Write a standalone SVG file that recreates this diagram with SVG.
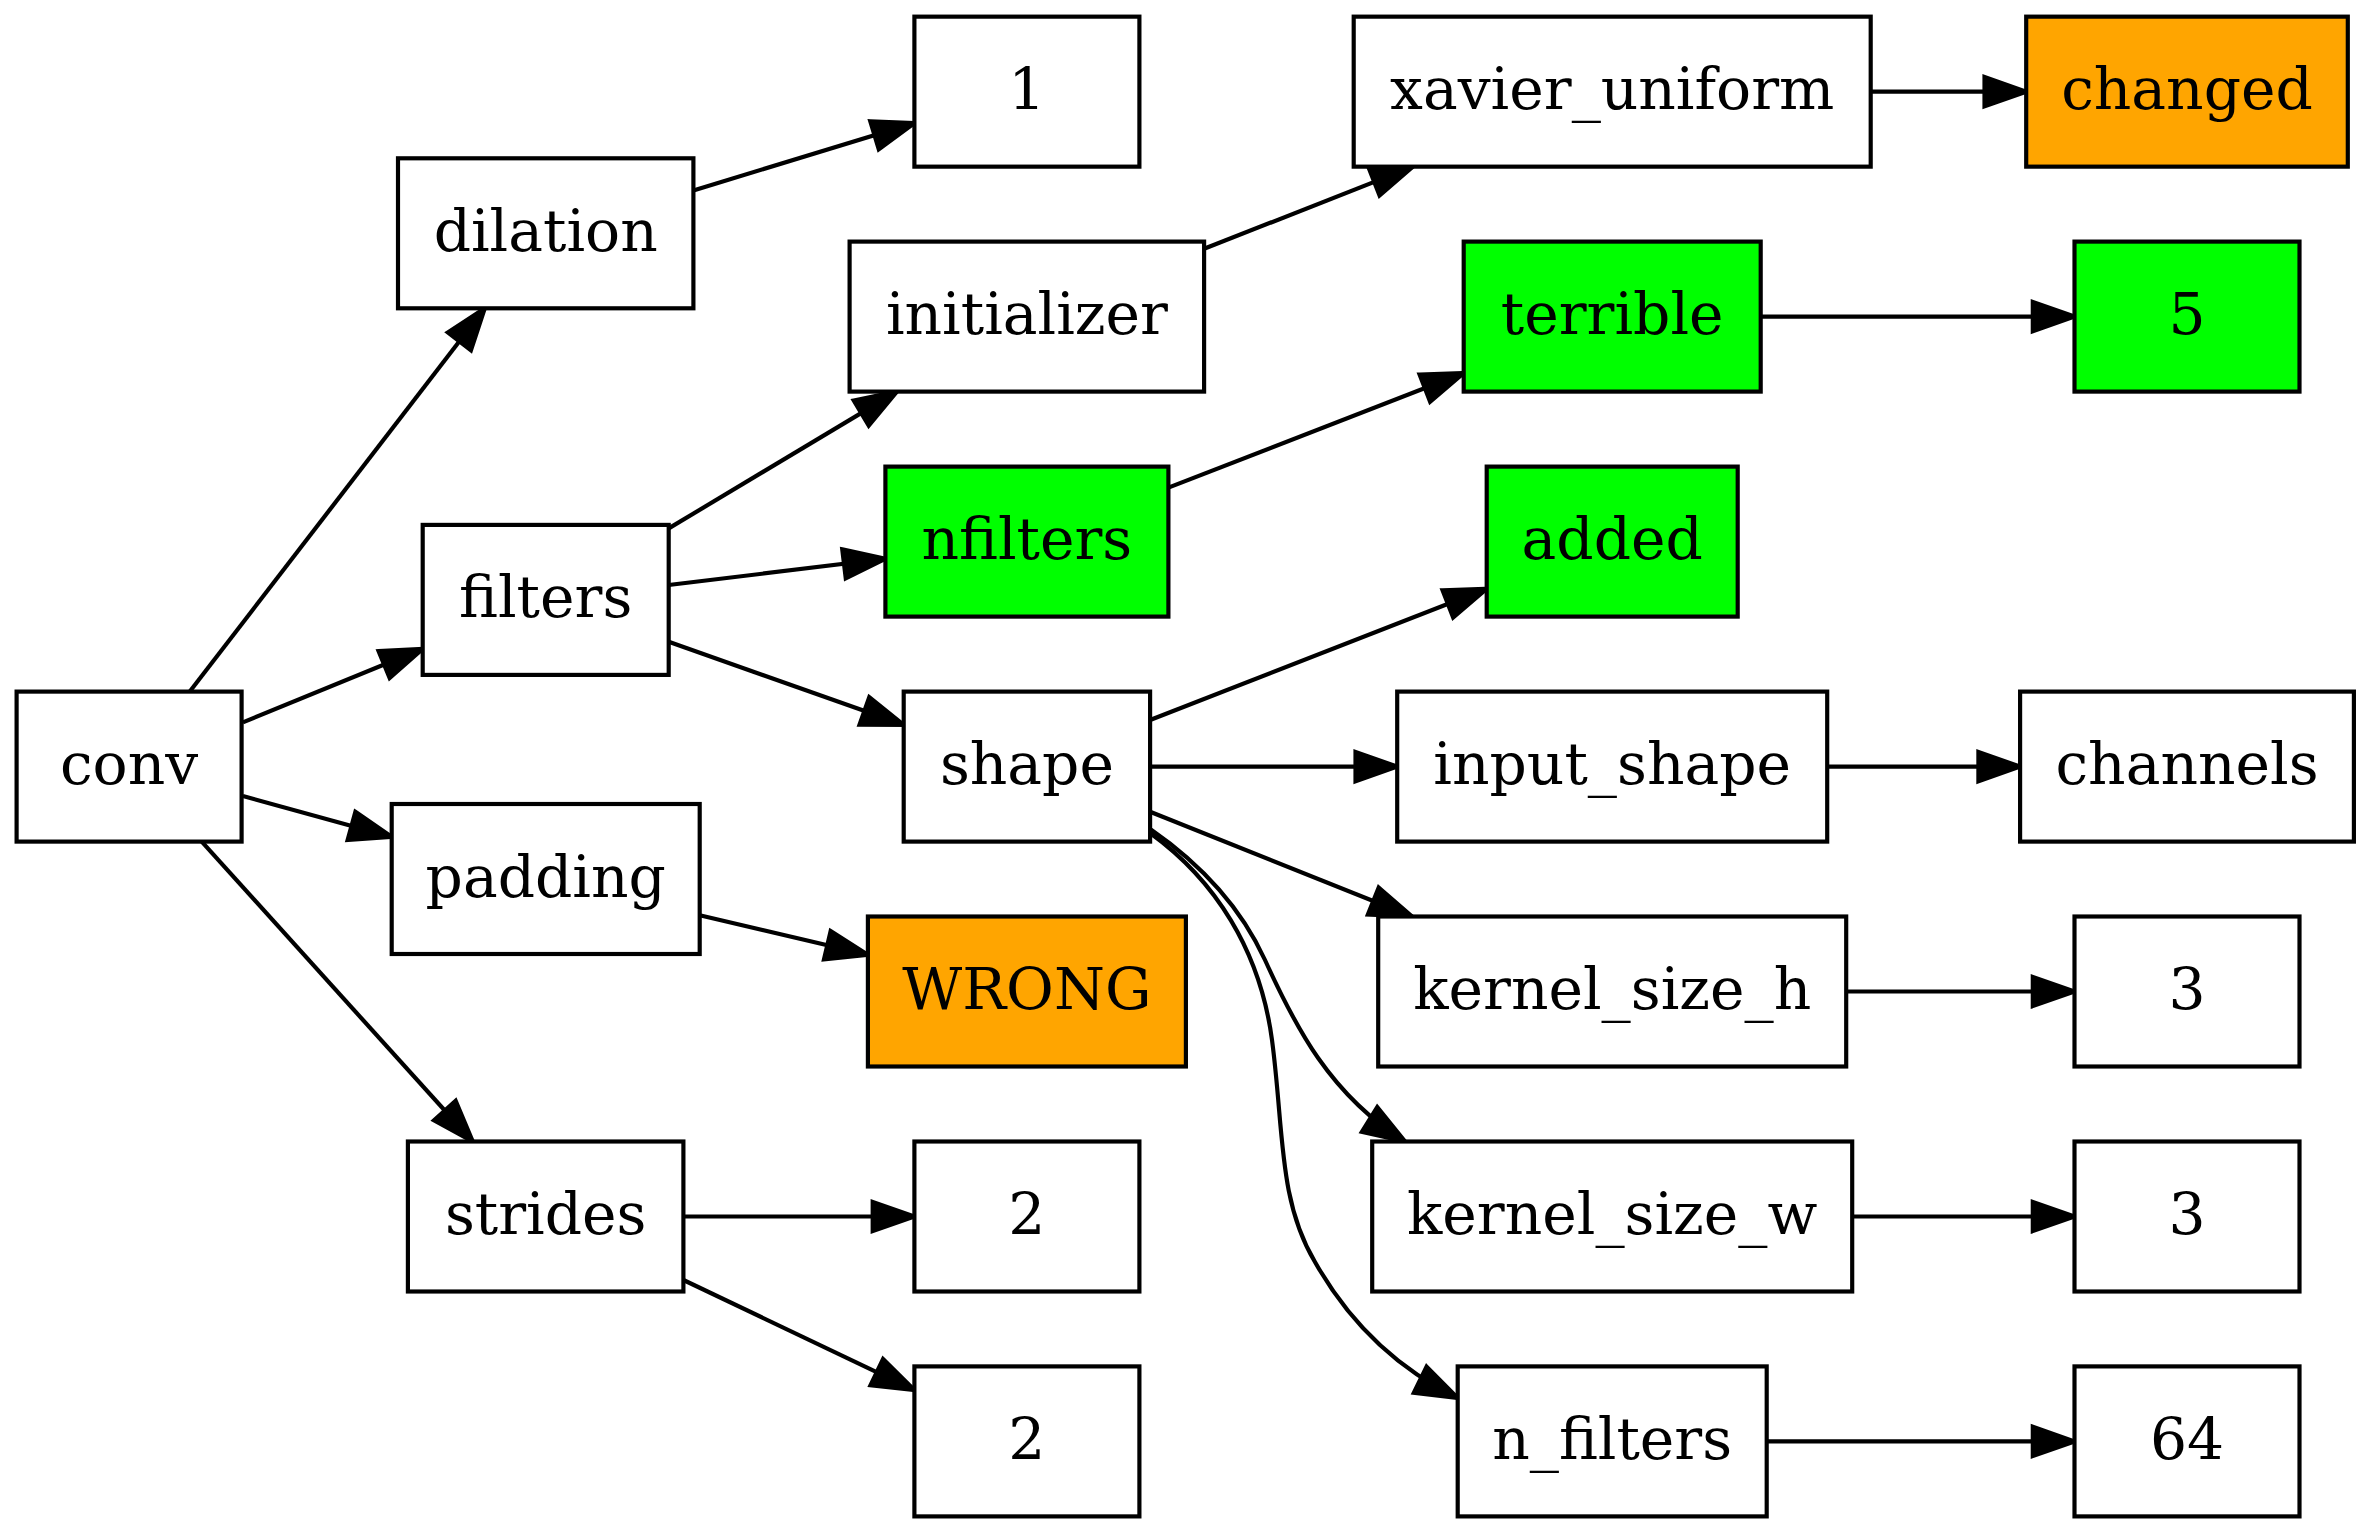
<svg xmlns="http://www.w3.org/2000/svg" width="2371" height="1533" viewBox="0 0 2371 1533">
<style>
.n rect{stroke:#000;stroke-width:4.17;fill:#fff}
.n.g rect{fill:#00ff00}
.n.o rect{fill:#ffa500}
.n text{font-family:"DejaVu Serif","Liberation Serif",serif;font-size:58.3px;text-anchor:middle;fill:#000}
#edges path{fill:none;stroke:#000;stroke-width:4.17;marker-end:url(#ah)}
</style>
<defs>
<marker id="ah" markerUnits="userSpaceOnUse" markerWidth="60" markerHeight="40" viewBox="-5 -5 55 40" refX="41.7" refY="14.6" orient="auto" overflow="visible">
<path d="M0,0 L41.7,14.6 L0,29.2 Z" fill="#000" stroke="#000" stroke-width="4.17"/>
</marker>
</defs>
<rect width="2371" height="1533" fill="#fff"/>
<g id="edges">
<path d="M189.8,691.6 L484.8,308.3"/>
<path d="M242.9,722.4 L422.7,648.8"/>
<path d="M242.9,796 L391.7,836.9"/>
<path d="M201.5,841.3 L472.8,1141.5"/>
<path d="M693.4,190.4 L914.4,123.1"/>
<path d="M668.7,528.4 L897,391.6"/>
<path d="M668.7,585 L885.4,558.8"/>
<path d="M668.7,641.8 L903.7,724.8"/>
<path d="M1204.1,248.8 L1413,166.65"/>
<path d="M1168.4,487.6 L1463.7,373"/>
<path d="M1150.1,720 L1486.7,588.8"/>
<path d="M1150.1,766.6 L1397.2,766.6"/>
<path d="M1870.7,91.65 L2026.2,91.65"/>
<path d="M1760.7,316.6 L2074.5,316.6"/>
<path d="M1827.2,766.6 L2020.1,766.6"/>
<path d="M699.7,915.3 L867.9,954.7"/>
<path d="M683.4,1216.5 L914.4,1216.5"/>
<path d="M683.4,1280 L914.4,1390.1"/>
<path d="M1150.1,811.8 L1412,916.5"/>
<path d="M1150.1,829 C1195,860 1238,901 1265,960 C1295,1026 1330,1095 1405,1141.5"/>
<path d="M1150.1,833 C1215,880 1260,950 1272,1040 C1284,1130 1278,1200 1315,1262 C1345,1315 1390,1365 1457.7,1398"/>
<path d="M1846.2,991.5 L2074.5,991.5"/>
<path d="M1852.2,1216.5 L2074.5,1216.5"/>
<path d="M1766.7,1441.4 L2074.5,1441.4"/>
</g>
<g id="conv" class="n"><rect x="16.6" y="691.6" width="225" height="150"/><text x="129.1" y="784.1">conv</text></g>
<g id="dilation" class="n"><rect x="398" y="158.3" width="295.4" height="150"/><text x="545.7" y="250.8">dilation</text></g>
<g id="filters" class="n"><rect x="422.7" y="524.9" width="246" height="150"/><text x="545.7" y="617.4">filters</text></g>
<g id="padding" class="n"><rect x="391.7" y="804" width="308" height="150"/><text x="545.7" y="896.5">padding</text></g>
<g id="strides" class="n"><rect x="407.9" y="1141.5" width="275.5" height="150"/><text x="545.7" y="1234">strides</text></g>
<g id="dilation_val" class="n"><rect x="914.4" y="16.65" width="225" height="150"/><text x="1026.9" y="109.15">1</text></g>
<g id="initializer" class="n"><rect x="849.6" y="241.6" width="354.5" height="150"/><text x="1026.9" y="334.1">initializer</text></g>
<g id="nfilters" class="n g"><rect x="885.4" y="466.6" width="283" height="150"/><text x="1026.9" y="559.1">nfilters</text></g>
<g id="shape" class="n"><rect x="903.7" y="691.6" width="246.4" height="150"/><text x="1026.9" y="784.1">shape</text></g>
<g id="wrong" class="n o"><rect x="867.9" y="916.5" width="318" height="150"/><text x="1026.9" y="1009">WRONG</text></g>
<g id="strides_a" class="n"><rect x="914.4" y="1141.5" width="225" height="150"/><text x="1026.9" y="1234">2</text></g>
<g id="strides_b" class="n"><rect x="914.4" y="1366.4" width="225" height="150"/><text x="1026.9" y="1458.9">2</text></g>
<g id="xavier_uniform" class="n"><rect x="1353.7" y="16.65" width="517" height="150"/><text x="1612.2" y="109.15">xavier_uniform</text></g>
<g id="terrible" class="n g"><rect x="1463.7" y="241.6" width="297" height="150"/><text x="1612.2" y="334.1">terrible</text></g>
<g id="added" class="n g"><rect x="1486.7" y="466.6" width="251" height="150"/><text x="1612.2" y="559.1">added</text></g>
<g id="input_shape" class="n"><rect x="1397.2" y="691.6" width="430" height="150"/><text x="1612.2" y="784.1">input_shape</text></g>
<g id="kernel_size_h" class="n"><rect x="1378.2" y="916.5" width="468" height="150"/><text x="1612.2" y="1009">kernel_size_h</text></g>
<g id="kernel_size_w" class="n"><rect x="1372.2" y="1141.5" width="480" height="150"/><text x="1612.2" y="1234">kernel_size_w</text></g>
<g id="n_filters" class="n"><rect x="1457.7" y="1366.4" width="309" height="150"/><text x="1612.2" y="1458.9">n_filters</text></g>
<g id="changed" class="n o"><rect x="2026.2" y="16.65" width="321.6" height="150"/><text x="2187" y="109.15">changed</text></g>
<g id="terrible_val" class="n g"><rect x="2074.5" y="241.6" width="225" height="150"/><text x="2187" y="334.1">5</text></g>
<g id="channels" class="n"><rect x="2020.1" y="691.6" width="333.8" height="150"/><text x="2187" y="784.1">channels</text></g>
<g id="kh_val" class="n"><rect x="2074.5" y="916.5" width="225" height="150"/><text x="2187" y="1009">3</text></g>
<g id="kw_val" class="n"><rect x="2074.5" y="1141.5" width="225" height="150"/><text x="2187" y="1234">3</text></g>
<g id="nf_val" class="n"><rect x="2074.5" y="1366.4" width="225" height="150"/><text x="2187" y="1458.9">64</text></g>
</svg>
